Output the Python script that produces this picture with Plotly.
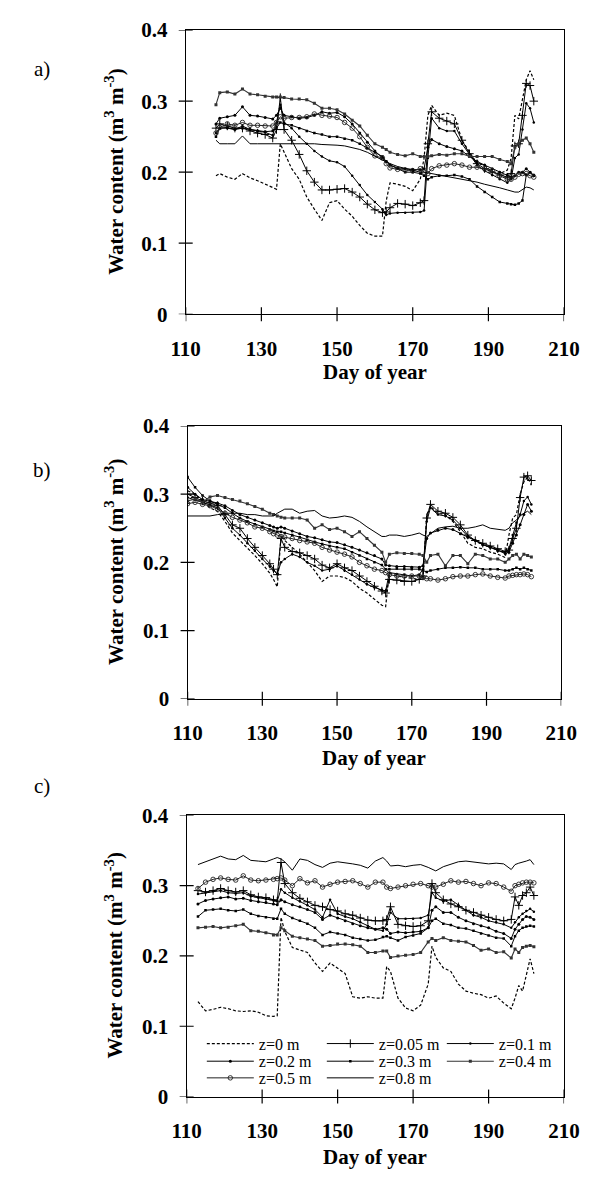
import plotly.graph_objects as go

# ---------------- panel a ----------------
A_DAYS = [118, 119, 121, 123, 125, 127, 129, 131, 133,
          134, 135, 136,
          138, 140, 142, 144, 146, 148, 150, 152, 154, 156, 158, 160, 162,
          163, 164,
          166, 168, 170, 172,
          173, 174, 175,
          177, 179, 181, 183, 185, 187, 189, 191, 193, 195,
          196, 197, 198, 199, 200, 201, 202]
A_Z0 = [0.195, 0.198, 0.193, 0.190, 0.198, 0.192, 0.188, 0.183, 0.178,
        0.176, 0.240, 0.228,
        0.205, 0.190, 0.165, 0.148, 0.132, 0.157, 0.160, 0.148, 0.138, 0.125, 0.114, 0.110, 0.110,
        0.160, 0.185,
        0.183, 0.180, 0.174, 0.190,
        0.220, 0.280, 0.294,
        0.280, 0.283, 0.280, 0.245, 0.228, 0.212, 0.210, 0.200, 0.198, 0.203,
        0.220, 0.280, 0.275, 0.300, 0.330, 0.343, 0.330]
A_Z005 = [0.262, 0.268, 0.265, 0.262, 0.262, 0.258, 0.255, 0.253, 0.248,
          0.260, 0.305, 0.260,
          0.245, 0.225, 0.202, 0.186, 0.175, 0.175, 0.176, 0.177, 0.172, 0.165, 0.155, 0.147, 0.143,
          0.144, 0.150,
          0.156, 0.155, 0.153, 0.157,
          0.160, 0.240, 0.285,
          0.276, 0.272, 0.268, 0.245, 0.226, 0.212, 0.205, 0.200, 0.196, 0.193,
          0.198, 0.237, 0.240, 0.280, 0.325, 0.322, 0.300]
A_Z01 = [0.255, 0.262, 0.262, 0.260, 0.265, 0.260, 0.258, 0.256, 0.252,
         0.270, 0.295, 0.270,
         0.262, 0.250, 0.240, 0.230, 0.222, 0.216, 0.214, 0.208, 0.195, 0.182, 0.168, 0.158, 0.148,
         0.140, 0.142,
         0.143, 0.143, 0.143, 0.144,
         0.146, 0.220, 0.276,
         0.262, 0.258, 0.258, 0.240, 0.225, 0.210, 0.202, 0.196, 0.190, 0.185,
         0.190, 0.220, 0.225, 0.260, 0.297, 0.290, 0.270]
A_Z02 = [0.268, 0.276, 0.278, 0.280, 0.292, 0.280, 0.279, 0.277, 0.275,
         0.280, 0.290, 0.280,
         0.278, 0.276, 0.277, 0.280, 0.285, 0.283, 0.284, 0.278, 0.268, 0.255, 0.242, 0.230, 0.220,
         0.215, 0.210,
         0.206, 0.205, 0.204, 0.203,
         0.205, 0.235, 0.246,
         0.240, 0.236, 0.233, 0.230, 0.222, 0.215, 0.210, 0.205, 0.200, 0.196,
         0.193, 0.195, 0.200, 0.200, 0.205, 0.200, 0.196]
A_Z03 = [0.250, 0.262, 0.263, 0.260, 0.262, 0.260, 0.258, 0.257, 0.258,
         0.262, 0.270, 0.268,
         0.266, 0.262, 0.258, 0.255, 0.253, 0.250, 0.250, 0.247, 0.245, 0.240, 0.234, 0.228, 0.222,
         0.215, 0.210,
         0.205, 0.200, 0.200, 0.198,
         0.195, 0.190, 0.193,
         0.195, 0.195, 0.196, 0.194, 0.190, 0.180, 0.172, 0.165, 0.158, 0.156,
         0.155, 0.154, 0.156, 0.160, 0.196, 0.200, 0.195]
A_Z04 = [0.295, 0.312, 0.313, 0.310, 0.317, 0.310, 0.309, 0.307, 0.306,
         0.306, 0.306, 0.305,
         0.303, 0.303, 0.302, 0.297, 0.290, 0.290, 0.288, 0.282, 0.273, 0.265, 0.252, 0.240, 0.235,
         0.232, 0.228,
         0.225, 0.223, 0.226, 0.222,
         0.222, 0.222, 0.223,
         0.225, 0.224, 0.226, 0.226, 0.222, 0.222, 0.222, 0.222, 0.218, 0.215,
         0.212, 0.235, 0.240, 0.245, 0.248, 0.240, 0.228]
A_Z05 = [0.255, 0.263, 0.268, 0.266, 0.270, 0.266, 0.266, 0.265, 0.265,
         0.270, 0.278, 0.276,
         0.277, 0.277, 0.278, 0.282, 0.280, 0.279, 0.277, 0.270, 0.262, 0.250, 0.235, 0.223, 0.220,
         0.212, 0.206,
         0.204, 0.203, 0.202, 0.205,
         0.200, 0.198, 0.205,
         0.209, 0.210, 0.212, 0.210, 0.207, 0.207, 0.205, 0.202, 0.195, 0.190,
         0.190, 0.193, 0.197, 0.198, 0.198, 0.195, 0.193]
A_Z08 = [0.245, 0.240, 0.240, 0.240, 0.251, 0.240, 0.240, 0.240, 0.240,
         0.240, 0.241, 0.240,
         0.240, 0.240, 0.240, 0.240, 0.239, 0.239, 0.238, 0.237, 0.235, 0.232, 0.228, 0.222, 0.217,
         0.215, 0.212,
         0.208, 0.205, 0.203, 0.200,
         0.200, 0.199, 0.198,
         0.197, 0.195, 0.192, 0.190, 0.188, 0.186, 0.183, 0.181, 0.178, 0.175,
         0.173, 0.172, 0.172, 0.175, 0.179, 0.178, 0.175]

# ---------------- panel b ----------------
B_DAYS = [110, 112, 114, 116, 118, 120, 122, 124, 126, 128, 130, 132,
          133, 134, 135, 136,
          138, 140, 142, 144, 146, 148, 150, 152, 154, 156, 158, 160, 162,
          163, 164,
          166, 168, 170, 172,
          173, 174, 175,
          177, 179, 181, 183, 185, 187, 189, 191, 193, 195,
          196, 197, 198, 199, 200, 201, 202]
B_Z0 = [0.305, 0.300, 0.290, 0.280, 0.275, 0.260, 0.243, 0.232, 0.222, 0.210, 0.198, 0.184,
        0.175, 0.164, 0.238, 0.232,
        0.222, 0.212, 0.200, 0.188, 0.172, 0.180, 0.180, 0.178, 0.172, 0.162, 0.155, 0.146, 0.137,
        0.135, 0.185,
        0.180, 0.178, 0.176, 0.175,
        0.175, 0.270, 0.282,
        0.272, 0.270, 0.260, 0.245, 0.228, 0.222, 0.220, 0.215, 0.212, 0.207,
        0.240, 0.265, 0.270, 0.300, 0.318, 0.325, 0.313]
B_Z005 = [0.300, 0.295, 0.290, 0.287, 0.283, 0.270, 0.255, 0.250, 0.235, 0.222, 0.210, 0.198,
          0.190, 0.182, 0.235, 0.222,
          0.216, 0.214, 0.210, 0.205, 0.196, 0.192, 0.198, 0.192, 0.188, 0.180, 0.172, 0.165, 0.158,
          0.155, 0.175,
          0.174, 0.172, 0.172, 0.175,
          0.180, 0.265, 0.285,
          0.275, 0.272, 0.266, 0.255, 0.240, 0.232, 0.228, 0.224, 0.220, 0.216,
          0.218, 0.235, 0.250, 0.295, 0.325, 0.327, 0.320]
B_Z01 = [0.295, 0.292, 0.288, 0.284, 0.280, 0.265, 0.250, 0.240, 0.228, 0.217, 0.205, 0.194,
         0.188, 0.183, 0.200, 0.205,
         0.212, 0.208, 0.200, 0.195, 0.188, 0.190, 0.195, 0.188, 0.182, 0.175, 0.168, 0.163, 0.160,
         0.158, 0.185,
         0.183, 0.182, 0.180, 0.182,
         0.190, 0.260, 0.280,
         0.270, 0.268, 0.262, 0.250, 0.238, 0.232, 0.226, 0.222, 0.218, 0.214,
         0.220, 0.240, 0.258, 0.270, 0.290, 0.296, 0.285]
B_Z02 = [0.310, 0.300, 0.292, 0.290, 0.287, 0.283, 0.276, 0.270, 0.266, 0.262, 0.258, 0.254,
         0.252, 0.250, 0.252, 0.250,
         0.246, 0.242, 0.238, 0.236, 0.233, 0.230, 0.229, 0.226, 0.222, 0.218, 0.214, 0.210, 0.205,
         0.196, 0.195,
         0.194, 0.194, 0.193, 0.193,
         0.195, 0.235, 0.243,
         0.247, 0.250, 0.248, 0.242, 0.237, 0.232, 0.226, 0.222, 0.217, 0.213,
         0.215, 0.228, 0.240, 0.255, 0.270, 0.285, 0.275]
B_Z03 = [0.325, 0.310, 0.298, 0.290, 0.285, 0.280, 0.272, 0.265, 0.260, 0.256, 0.252, 0.248,
         0.246, 0.245, 0.245, 0.243,
         0.240, 0.237, 0.233, 0.230, 0.227, 0.224, 0.222, 0.220, 0.215, 0.210, 0.205, 0.200, 0.196,
         0.190, 0.190,
         0.191, 0.190, 0.190, 0.190,
         0.188, 0.186, 0.188,
         0.190, 0.192, 0.192, 0.193, 0.192, 0.192, 0.190, 0.190, 0.190, 0.188,
         0.188, 0.190, 0.192, 0.190, 0.192, 0.190, 0.188]
B_Z04 = [0.290, 0.293, 0.288, 0.296, 0.298, 0.295, 0.292, 0.290, 0.286, 0.282, 0.278, 0.272,
         0.270, 0.268, 0.266, 0.265,
         0.265, 0.265, 0.262, 0.250, 0.255, 0.248, 0.250, 0.245, 0.238, 0.245, 0.235, 0.225, 0.215,
         0.200, 0.212,
         0.214, 0.213, 0.213, 0.212,
         0.210, 0.200, 0.210,
         0.212, 0.195, 0.210, 0.210, 0.198, 0.212, 0.210, 0.205, 0.205, 0.200,
         0.205, 0.210, 0.212, 0.205, 0.212, 0.210, 0.208]
B_Z05 = [0.286, 0.288, 0.285, 0.283, 0.278, 0.272, 0.266, 0.262, 0.258, 0.252, 0.250, 0.245,
         0.242, 0.240, 0.238, 0.237,
         0.235, 0.232, 0.230, 0.228, 0.222, 0.218, 0.215, 0.212, 0.208, 0.200, 0.195, 0.190, 0.188,
         0.185, 0.182,
         0.180, 0.180, 0.180, 0.180,
         0.178, 0.176, 0.176,
         0.174, 0.176, 0.179, 0.180, 0.180, 0.182, 0.183, 0.180, 0.178, 0.177,
         0.180, 0.181, 0.182, 0.182, 0.183, 0.182, 0.179]
B_Z08 = [0.268, 0.268, 0.268, 0.268, 0.270, 0.272, 0.272, 0.272, 0.270, 0.270, 0.268, 0.268,
         0.268, 0.272, 0.275, 0.278,
         0.278, 0.272, 0.275, 0.276, 0.268, 0.265, 0.266, 0.268, 0.266, 0.260, 0.252, 0.245, 0.238,
         0.238, 0.240,
         0.240, 0.238, 0.240, 0.243,
         0.240, 0.238, 0.242,
         0.250, 0.252, 0.253, 0.250, 0.250, 0.252, 0.255, 0.250, 0.248, 0.247,
         0.250, 0.258, 0.262, 0.268, 0.272, 0.275, 0.270]

# ---------------- panel c ----------------
C_DAYS = [113, 115, 117, 119, 121, 123, 125, 127, 129, 131, 133,
          134, 135, 136,
          138, 140, 142, 144, 146, 148, 150, 152, 154, 156, 158, 160, 162,
          163, 164,
          166, 168, 170, 172, 174,
          175, 176,
          178, 180, 182, 184, 186, 188, 190, 192, 194, 196,
          197, 198, 199, 200, 201, 202]
C_Z0 = [0.135, 0.122, 0.124, 0.127, 0.125, 0.122, 0.121, 0.122, 0.120, 0.115, 0.114,
        0.115, 0.255, 0.235,
        0.212, 0.208, 0.205, 0.190, 0.178, 0.190, 0.183, 0.175, 0.142, 0.140, 0.142, 0.140, 0.140,
        0.185, 0.178,
        0.140, 0.126, 0.122, 0.130, 0.160,
        0.214, 0.198,
        0.183, 0.178, 0.160, 0.150, 0.147, 0.145, 0.140, 0.143, 0.133, 0.125,
        0.140, 0.158, 0.150, 0.175, 0.196, 0.175]
C_Z005 = [0.293, 0.291, 0.293, 0.296, 0.293, 0.291, 0.293, 0.287, 0.284, 0.283, 0.280,
          0.278, 0.333, 0.303,
          0.290, 0.282, 0.277, 0.272, 0.270, 0.266, 0.264, 0.260, 0.258, 0.254, 0.251, 0.250, 0.250,
          0.252, 0.270,
          0.245, 0.243, 0.242, 0.243, 0.250,
          0.303, 0.290,
          0.280, 0.274, 0.270, 0.265, 0.262, 0.258, 0.255, 0.252, 0.250, 0.252,
          0.284, 0.272, 0.286, 0.290, 0.298, 0.286]
C_Z01 = [0.288, 0.290, 0.292, 0.293, 0.290, 0.289, 0.290, 0.285, 0.283, 0.281, 0.279,
         0.278, 0.295, 0.290,
         0.283, 0.278, 0.272, 0.266, 0.255, 0.280, 0.260, 0.256, 0.253, 0.248, 0.243, 0.238, 0.236,
         0.245, 0.262,
         0.253, 0.253, 0.253, 0.254, 0.258,
         0.290, 0.283,
         0.278, 0.280, 0.272, 0.265, 0.258, 0.255, 0.250, 0.248, 0.245, 0.240,
         0.248, 0.255, 0.260, 0.264, 0.267, 0.263]
C_Z02 = [0.274, 0.279, 0.281, 0.283, 0.284, 0.281, 0.282, 0.279, 0.277, 0.276, 0.274,
         0.273, 0.280, 0.277,
         0.273, 0.270, 0.266, 0.262, 0.252, 0.258, 0.254, 0.250, 0.246, 0.243, 0.240, 0.238, 0.240,
         0.238, 0.232,
         0.234, 0.233, 0.234, 0.235, 0.240,
         0.265, 0.270,
         0.262, 0.262, 0.255, 0.250, 0.246, 0.243, 0.240, 0.235, 0.232, 0.225,
         0.238, 0.245, 0.252, 0.256, 0.255, 0.252]
C_Z03 = [0.256, 0.265, 0.266, 0.267, 0.265, 0.264, 0.266, 0.260, 0.257, 0.255, 0.253,
         0.253, 0.267, 0.260,
         0.254, 0.250, 0.246, 0.240, 0.230, 0.234, 0.232, 0.230, 0.226, 0.224, 0.222, 0.223, 0.227,
         0.228, 0.226,
         0.222, 0.227, 0.229, 0.232, 0.240,
         0.250, 0.253,
         0.246, 0.244, 0.240, 0.239, 0.236, 0.232, 0.229, 0.226, 0.225, 0.214,
         0.228, 0.236, 0.240, 0.242, 0.243, 0.242]
C_Z04 = [0.240, 0.241, 0.242, 0.240, 0.241, 0.243, 0.245, 0.236, 0.235, 0.233, 0.230,
         0.230, 0.240, 0.236,
         0.228, 0.226, 0.224, 0.222, 0.214, 0.215, 0.217, 0.217, 0.216, 0.214, 0.205, 0.205, 0.207,
         0.207, 0.198,
         0.200, 0.201, 0.202, 0.205, 0.220,
         0.225, 0.222,
         0.226, 0.222, 0.221, 0.220, 0.215, 0.208, 0.210, 0.205, 0.206, 0.197,
         0.210, 0.205, 0.212, 0.214, 0.215, 0.213]
C_Z05 = [0.296, 0.305, 0.309, 0.311, 0.309, 0.308, 0.314, 0.308, 0.307, 0.308, 0.309,
         0.310, 0.311, 0.308,
         0.300, 0.310, 0.304, 0.307, 0.298, 0.302, 0.305, 0.306, 0.307, 0.303, 0.298, 0.305, 0.305,
         0.298, 0.296,
         0.298, 0.300, 0.302, 0.303, 0.300,
         0.298, 0.298,
         0.302, 0.307, 0.305, 0.306, 0.303, 0.300, 0.304, 0.303, 0.298, 0.292,
         0.300, 0.302, 0.304, 0.305, 0.305, 0.304]
C_Z08 = [0.330, 0.334, 0.338, 0.342, 0.338, 0.337, 0.343, 0.336, 0.335, 0.334, 0.338,
         0.340, 0.338, 0.334,
         0.322, 0.338, 0.336, 0.330, 0.326, 0.332, 0.334, 0.333, 0.331, 0.329, 0.325, 0.335, 0.340,
         0.335, 0.328,
         0.329, 0.327, 0.329, 0.330, 0.326,
         0.324, 0.321,
         0.327, 0.331, 0.334, 0.335, 0.334, 0.333, 0.331, 0.332, 0.331, 0.323,
         0.330, 0.332, 0.333, 0.335, 0.337, 0.330]

SERIES_NAMES = ["z=0 m", "z=0.05 m", "z=0.1 m", "z=0.2 m",
                "z=0.3 m", "z=0.4 m", "z=0.5 m", "z=0.8 m"]
X_TICKS = [110, 130, 150, 170, 190, 210]
Y_TICKS = [0, 0.1, 0.2, 0.3, 0.4]
Y_TICK_TEXT = ["0", "0.1", "0.2", "0.3", "0.4"]

# line / marker style for each depth
STYLES = [
    dict(mode="lines", line=dict(color="black", width=1.2, dash="3px,2px")),
    dict(mode="lines+markers", line=dict(color="black", width=1.0),
         marker=dict(symbol="cross-thin", size=6, color="black", line=dict(width=1, color="black"))),
    dict(mode="lines+markers", line=dict(color="black", width=1.0),
         marker=dict(symbol="circle", size=2.5, color="black")),
    dict(mode="lines+markers", line=dict(color="black", width=1.0),
         marker=dict(symbol="circle", size=3, color="black")),
    dict(mode="lines+markers", line=dict(color="black", width=1.0),
         marker=dict(symbol="square", size=2.5, color="black")),
    dict(mode="lines+markers", line=dict(color="#333333", width=1.1),
         marker=dict(symbol="square", size=3, color="#333333")),
    dict(mode="lines+markers", line=dict(color="#222222", width=1.0),
         marker=dict(symbol="circle-open", size=4.5, color="#222222", line=dict(width=0.9))),
    dict(mode="lines", line=dict(color="black", width=1.0)),
]
LEGEND_OF = ["legend", "legend", "legend", "legend2", "legend2", "legend2", "legend3", "legend3"]

W, H = 600, 1184
SERIF = "Liberation Serif"

panels = [
    dict(days=A_DAYS, series=[A_Z0, A_Z005, A_Z01, A_Z02, A_Z03, A_Z04, A_Z05, A_Z08],
         px=(180, 579), py=(18.5, 308.5), label="a)", label_y=58, title_gap=59),
    dict(days=B_DAYS, series=[B_Z0, B_Z005, B_Z01, B_Z02, B_Z03, B_Z04, B_Z05, B_Z08],
         px=(182, 576), py=(422.5, 701), label="b)", label_y=467, title_gap=60),
    dict(days=C_DAYS, series=[C_Z0, C_Z005, C_Z01, C_Z02, C_Z03, C_Z04, C_Z05, C_Z08],
         px=(181, 579), py=(820, 1107), label="c)", label_y=790, title_gap=62),
]

fig = go.Figure()
shapes, annotations = [], []
axis_font = dict(family=SERIF, size=21, color="black", weight="bold")

for i, p in enumerate(panels):
    n = "" if i == 0 else str(i + 1)
    xa, ya = "x" + n, "y" + n
    for k, vals in enumerate(p["series"]):
        fig.add_trace(go.Scatter(
            x=p["days"], y=vals, name=SERIES_NAMES[k], xaxis=xa, yaxis=ya,
            showlegend=(i == 2), legend=LEGEND_OF[k], **STYLES[k]))

    xdom = [p["px"][0] / W, p["px"][1] / W]
    ydom = [1 - p["py"][1] / H, 1 - p["py"][0] / H]
    common = dict(showline=True, mirror=True, linecolor="black", linewidth=1.2,
                  showgrid=False, zeroline=False, ticks="", tickfont=axis_font)
    fig.update_layout({
        "xaxis" + n: dict(domain=xdom, anchor=ya, range=[110, 210], tickvals=X_TICKS,
                          ticklabelstandoff=15, **common),
        "yaxis" + n: dict(domain=ydom, anchor=xa, range=[0, 0.4], tickvals=Y_TICKS,
                          ticktext=Y_TICK_TEXT, ticklabelstandoff=13, **common),
    })

    # tick marks crossing the axis lines
    for tv in X_TICKS:
        shapes.append(dict(type="line", xref=xa, yref=ya + " domain", x0=tv, x1=tv,
                           ysizemode="pixel", yanchor=0, y0=-7, y1=7,
                           line=dict(color="black", width=1.2)))
    for tv in Y_TICKS:
        shapes.append(dict(type="line", xref=xa + " domain", yref=ya, y0=tv, y1=tv,
                           xsizemode="pixel", xanchor=0, x0=-7, x1=7,
                           line=dict(color="black", width=1.2)))

    ymid = (p["py"][0] + p["py"][1]) / 2
    annotations.append(dict(
        text="Water content (m<sup>3</sup> m<sup>-3</sup>)", textangle=-90,
        xref="paper", yref="paper", x=105 / W, y=1 - ymid / H,
        xanchor="center", yanchor="middle", showarrow=False, font=axis_font))
    annotations.append(dict(
        text="Day of year", xref="paper", yref="paper",
        x=(p["px"][0] + p["px"][1]) / 2 / W, y=1 - (p["py"][1] + p["title_gap"]) / H,
        xanchor="center", yanchor="middle", showarrow=False, font=axis_font))
    annotations.append(dict(
        text=p["label"], xref="paper", yref="paper", x=28 / W, y=1 - p["label_y"] / H,
        xanchor="center", yanchor="middle", showarrow=False,
        font=dict(family=SERIF, size=21, color="black")))

legend_font = dict(family=SERIF, size=16, color="black")
legend_common = dict(orientation="h", xref="paper", yref="paper", xanchor="left",
                     yanchor="middle", font=legend_font, itemwidth=47,
                     entrywidth=58, bgcolor="rgba(0,0,0,0)", borderwidth=0,
                     traceorder="normal")
fig.update_layout(
    width=W, height=H, margin=dict(l=0, r=0, t=0, b=0),
    paper_bgcolor="white", plot_bgcolor="white",
    legend=dict(x=197 / W, y=1 - 1053 / H, **legend_common),
    legend2=dict(x=197 / W, y=1 - 1071 / H, **legend_common),
    legend3=dict(x=197 / W, y=1 - 1088 / H, **legend_common),
    shapes=shapes, annotations=annotations,
)

fig.write_html("out.html")
